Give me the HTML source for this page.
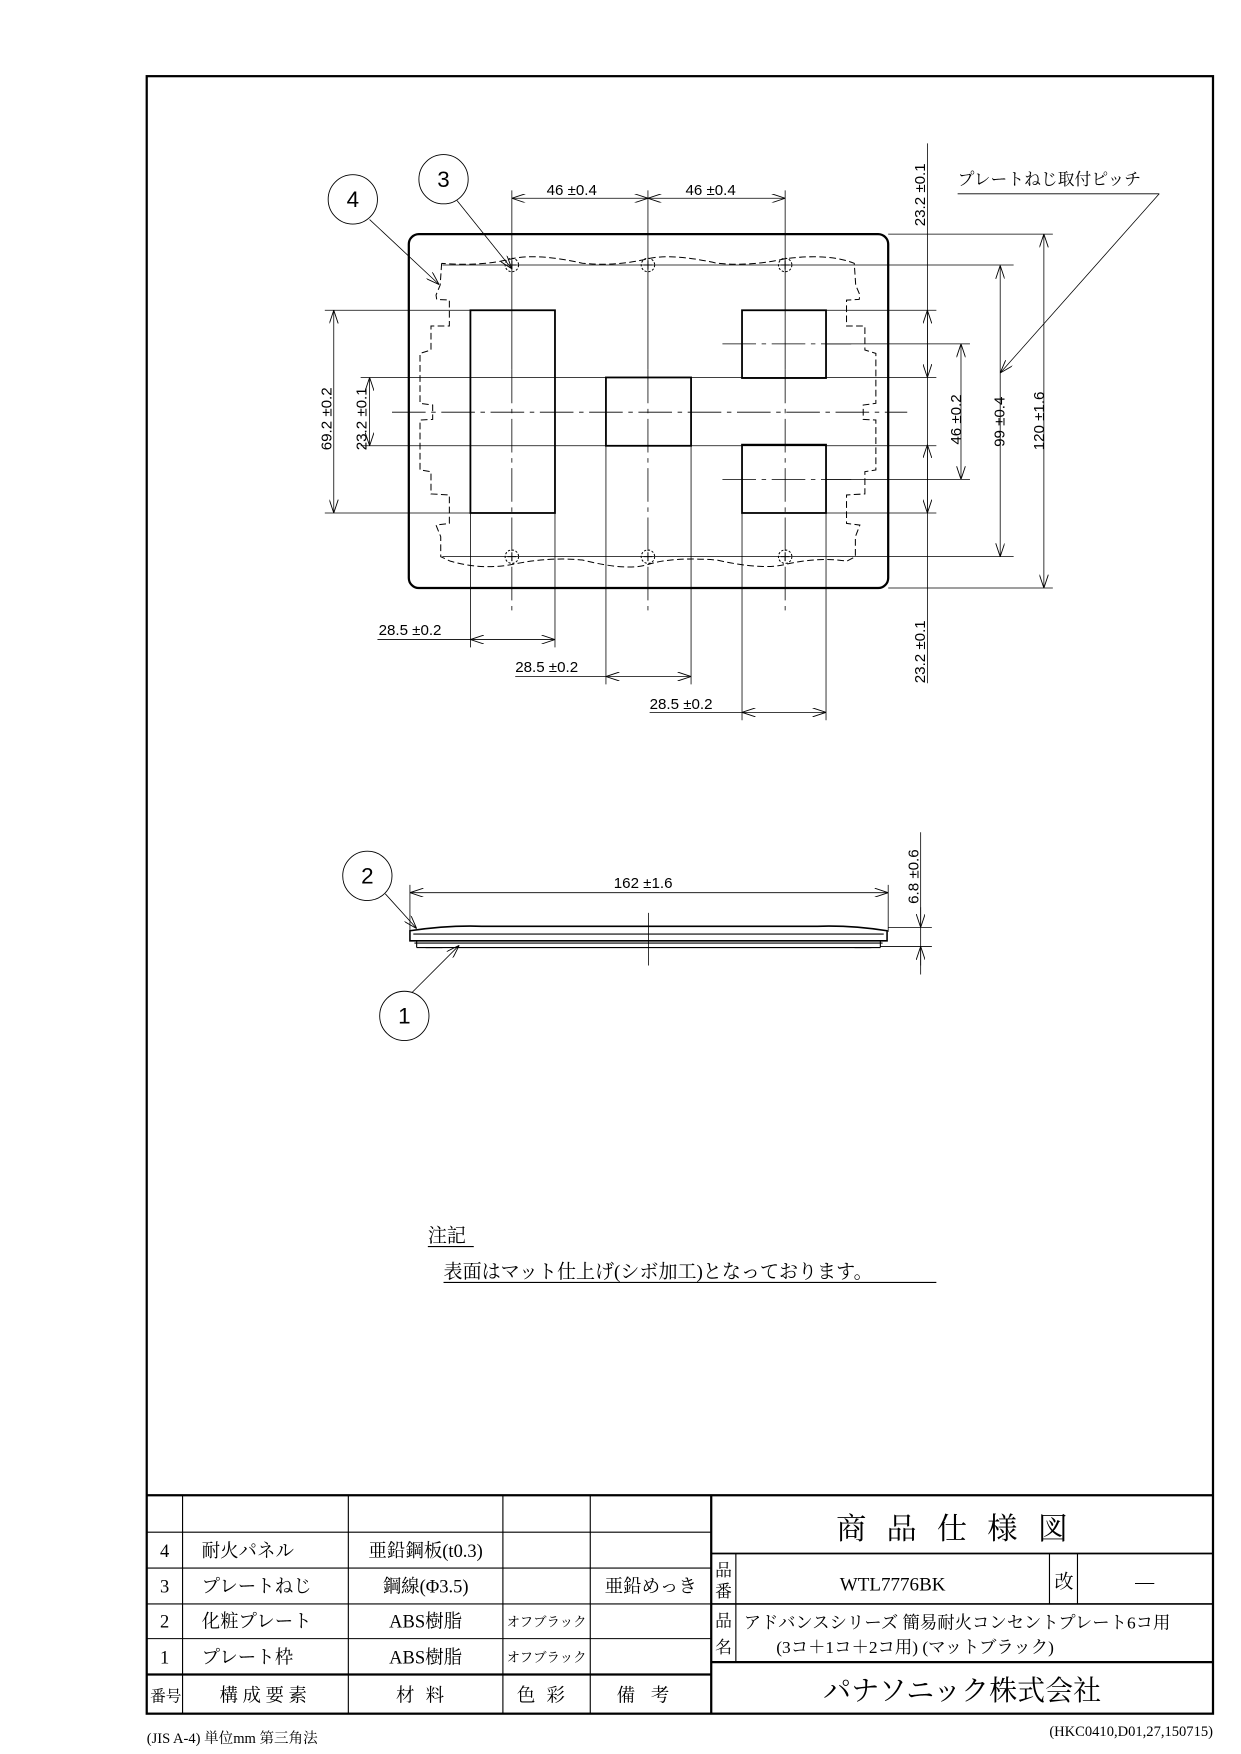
<!DOCTYPE html>
<html><head><meta charset="utf-8"><style>
html,body{margin:0;padding:0;background:#fff;}
svg{display:block;}
.d{font-family:"Liberation Sans","Noto Sans CJK JP",sans-serif;font-size:13.5px;fill:#000;}
.j{font-family:"Liberation Serif","Noto Serif CJK SC",serif;fill:#000;}
</style></head><body>
<svg width="1241" height="1754" viewBox="0 0 1108 1566" xmlns="http://www.w3.org/2000/svg">
<defs>
<marker id="a" viewBox="0 0 12 8" refX="12" refY="4" markerWidth="12" markerHeight="8" orient="auto-start-reverse" markerUnits="userSpaceOnUse">
<path d="M0,0 L12,4 L0,8" fill="none" stroke="#000" stroke-width="0.8"/></marker>
</defs>
<rect x="0" y="0" width="1108" height="1566" fill="#fff"/>
<rect x="131" y="68" width="952" height="1462" fill="none" stroke="#000" stroke-width="2"/>

<g stroke="#000" fill="none">
<rect x="365" y="209" width="428" height="316" rx="9" stroke-width="2"/>
<g stroke-width="1.6">
<rect x="420" y="277" width="75.5" height="181"/>
<rect x="541" y="337" width="76" height="61"/>
<rect x="662.5" y="277" width="75" height="60.5"/>
<rect x="662.5" y="397" width="75" height="61"/>
</g>
<path stroke-width="0.9" stroke-dasharray="6,3" d="M394.3,235.1 L393,254.5 L389.3,263.4 L389.9,267.3 L401.2,267.9 L401.2,291.1 L384.8,291.1 L384.8,312.5 L375,315.5 L375,360.1 L386.3,361.6 L386.3,374.4 L375,375 L375,419.6 L384.8,421.1 L384.8,441 L401.2,441.9 L401.2,467.3 L389.3,468.8 L393.5,479.2 L393.5,497 L402,501
Q430,509 457,504 Q490,497 520,500 Q560,510 578.5,504 Q600,497 640,500 Q680,509 701,504 Q730,497 756,501
L763.7,497 L763.7,479.2 L767.7,468.8 L755.8,467.3 L755.8,441.9 L772.2,441 L772.2,421.1 L782,419.6 L782,375 L770.7,374.4 L770.7,361.6 L782,360.1 L782,315.5 L772.2,312.5 L772.2,291.1 L755.8,291.1 L755.8,267.9 L767.1,267.3 L767.7,263.4 L764,254.5 L762.7,235.1
Q740,226 701,231 Q670,238 640,235 Q600,226 578.5,231 Q550,238 520,235 Q480,226 457,231 Q430,238 394.3,235.1"/>
<g stroke-width="0.9">
<circle cx="457" cy="236.6" r="6" stroke-dasharray="2,1.5"/><path d="M453,236.6h8M457,232.6v8"/>
<circle cx="578.5" cy="236.6" r="6" stroke-dasharray="2,1.5"/><path d="M574.5,236.6h8M578.5,232.6v8"/>
<circle cx="701" cy="236.6" r="6" stroke-dasharray="2,1.5"/><path d="M697,236.6h8M701,232.6v8"/>
<circle cx="457" cy="497" r="6" stroke-dasharray="2,1.5"/><path d="M453,497h8M457,493v8"/>
<circle cx="578.5" cy="497" r="6" stroke-dasharray="2,1.5"/><path d="M574.5,497h8M578.5,493v8"/>
<circle cx="701" cy="497" r="6" stroke-dasharray="2,1.5"/><path d="M697,497h8M701,493v8"/>
</g>
<g stroke-width="0.7">
<path d="M457,170V330M578.5,170V330M701,170V330"/>
<path d="M457,330V550M578.5,330V550M701,330V550" stroke-dasharray="30,5,4,5"/>
<path d="M350,368H810" stroke-dasharray="30,5,4,5"/>
<path d="M645,307H760M645,428H760" stroke-dasharray="30,5,4,5"/>
<path d="M395,236.6H905M395,497H905M793,209H940M793,525H940"/>
<path d="M290,277H420M737.5,277H836M290,458H420M737.5,458H836"/>
<path d="M322,337H541M617,337H836M322,398H541M617,398H836"/>
<path d="M737.5,307H866M737.5,428H866"/>
<path d="M420,458V578M495.5,458V578M541,398V611M617,398V611M662.5,458V643M737.5,458V643"/>
<path d="M828,128V610"/>
</g>
<g stroke-width="0.7" marker-start="url(#a)" marker-end="url(#a)">
<path d="M457,177H578.5"/><path d="M578.5,177H701"/>
<path d="M298,277V458"/><path d="M330,337V398"/>
<path d="M420,571H495.5"/><path d="M541,604H617"/><path d="M662.5,636H737.5"/>
<path d="M828,277V337"/><path d="M828,397V458"/>
<path d="M858,307V428"/><path d="M893,237V497"/><path d="M932,209V525"/>
<path d="M366,797H793"/>
</g>
<path stroke-width="0.7" d="M337,571H420M460,604H541M580,636H662.5"/>
<g stroke-width="0.7" marker-end="url(#a)">
<path d="M330,196L392,254"/><path d="M408,179L457,240"/>
<path d="M1035,173L893,333"/>
<path d="M344,798L372,829"/><path d="M368,886L410,844"/>
</g>
<path stroke-width="0.8" d="M855,173H1035"/>
<g stroke-width="0.8">
<circle cx="315" cy="178" r="22"/><circle cx="396" cy="160" r="22"/>
<circle cx="328" cy="782" r="22"/><circle cx="361" cy="907" r="22"/>
</g>
<path stroke-width="1.4" d="M366,831 Q400,826 430,827 L730,827 Q760,826 792,831 L792,840 L366,840 Z"/>
<path stroke-width="1" d="M369,834H789M370,842H788M372,846H786M372,840V846M786,840V846"/>
<path stroke-width="0.7" d="M366,790V832M793,790V832M579,815V862M793,828H832M786,845H832M822,743V870"/>
<path stroke-width="0.7" marker-end="url(#a)" d="M822,810V828"/>
<path stroke-width="0.7" marker-end="url(#a)" d="M822,862V845"/>
<path stroke-width="1" d="M380,846h15M763,846h15"/>
<path stroke-width="1" d="M382,1113H423M396,1145H836"/>
</g>

<g class="d">
<text x="488" y="174">46 ±0.4</text>
<text x="612" y="174">46 ±0.4</text>
<text x="338" y="567">28.5 ±0.2</text>
<text x="460" y="600">28.5 ±0.2</text>
<text x="580" y="633">28.5 ±0.2</text>
<text x="548" y="793">162 ±1.6</text>
<text transform="translate(296,402) rotate(-90)">69.2 ±0.2</text>
<text transform="translate(327,402) rotate(-90)">23.2 ±0.1</text>
<text transform="translate(826,202) rotate(-90)">23.2 ±0.1</text>
<text transform="translate(826,610) rotate(-90)">23.2 ±0.1</text>
<text transform="translate(858,397) rotate(-90)">46 ±0.2</text>
<text transform="translate(897,399) rotate(-90)">99 ±0.4</text>
<text transform="translate(932,402) rotate(-90)">120 ±1.6</text>
<text transform="translate(820,807) rotate(-90)">6.8 ±0.6</text>
</g>
<text x="855" y="165" class="j" style="font-size:15px">プレートねじ取付ピッチ</text>
<g class="d" style="font-size:20px" text-anchor="middle">
<text x="315" y="185">4</text><text x="396" y="167">3</text>
<text x="328" y="789">2</text><text x="361" y="914">1</text>
</g>
<text class="j" x="382" y="1109" font-size="17">注記</text>
<text class="j" x="396" y="1141" font-size="17">表面はマット仕上げ(シボ加工)となっております。</text>

<g stroke="#000" fill="none">
<path stroke-width="2" d="M131,1335H1083M635,1335V1530"/>
<path stroke-width="1" d="M131,1368H635M131,1400H635M131,1432H635M131,1463H635"/>
<path stroke-width="2" d="M131,1495H635"/>
<path stroke-width="1" d="M163,1335V1530M311,1335V1530M449,1335V1530M527,1335V1530"/>
<path stroke-width="1.5" d="M635,1387H1083M635,1432H1083"/>
<path stroke-width="2" d="M635,1484H1083"/>
<path stroke-width="1" d="M657,1387V1484M937,1387V1432M962,1387V1432"/>
</g>
<g class="j" font-size="16.5">
<text x="147" y="1390" text-anchor="middle">4</text>
<text x="147" y="1422" text-anchor="middle">3</text>
<text x="147" y="1453" text-anchor="middle">2</text>
<text x="147" y="1485" text-anchor="middle">1</text>
<text x="148" y="1519" text-anchor="middle" font-size="14">番号</text>
<text x="180" y="1390">耐火パネル</text>
<text x="180" y="1422">プレートねじ</text>
<text x="180" y="1453">化粧プレート</text>
<text x="180" y="1485">プレート枠</text>
<text x="237" y="1519" text-anchor="middle" letter-spacing="4">構成要素</text>
<text x="380" y="1390" text-anchor="middle">亜鉛鋼板(t0.3)</text>
<text x="380" y="1422" text-anchor="middle">鋼線(Φ3.5)</text>
<text x="380" y="1453" text-anchor="middle">ABS樹脂</text>
<text x="380" y="1485" text-anchor="middle">ABS樹脂</text>
<text x="380" y="1519" text-anchor="middle" letter-spacing="10">材料</text>
<text x="488" y="1452" text-anchor="middle" font-size="12">オフブラック</text>
<text x="488" y="1484" text-anchor="middle" font-size="12">オフブラック</text>
<text x="488" y="1519" text-anchor="middle" letter-spacing="10">色彩</text>
<text x="581" y="1422" text-anchor="middle">亜鉛めっき</text>
<text x="581" y="1519" text-anchor="middle" letter-spacing="14">備考</text>
<text x="859" y="1374" text-anchor="middle" font-size="27" letter-spacing="18">商品仕様図</text>
<text x="646" y="1407" text-anchor="middle" font-size="15">品</text>
<text x="646" y="1426" text-anchor="middle" font-size="15">番</text>
<text x="646" y="1452" text-anchor="middle" font-size="15">品</text>
<text x="646" y="1476" text-anchor="middle" font-size="15">名</text>
<text x="797" y="1420" text-anchor="middle" font-size="17">WTL7776BK</text>
<text x="950" y="1418" text-anchor="middle" font-size="17">改</text>
<text x="1022" y="1418" text-anchor="middle" font-size="17">—</text>
<text x="664" y="1454" font-size="15.5">アドバンスシリーズ  簡易耐火コンセントプレート6コ用</text>
<text x="817" y="1476" text-anchor="middle" font-size="15.5">(3コ＋1コ＋2コ用) (マットブラック)</text>
<text x="859" y="1518" text-anchor="middle" font-size="25">パナソニック株式会社</text>
<text x="131" y="1556" font-size="13">(JIS A-4)  単位mm  第三角法</text>
<text x="1083" y="1550" text-anchor="end" font-size="13">(HKC0410,D01,27,150715)</text>
</g>
</svg>
</body></html>
